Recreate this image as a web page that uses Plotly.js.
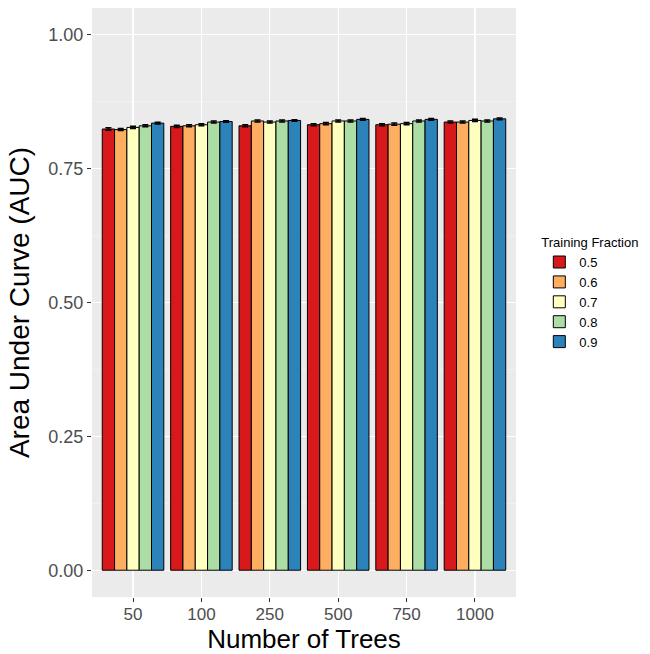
<!DOCTYPE html>
<html>
<head>
<meta charset="utf-8">
<script src="https://cdn.plot.ly/plotly-3.0.1.min.js"></script>
<style>html,body{margin:0;padding:0;background:#fff}#chart{width:650px;height:654px}</style>
</head>
<body>
<div id="chart"></div>
<script>
const trees = ["50", "100", "250", "500", "750", "1000"];
const fractions = ["0.5", "0.6", "0.7", "0.8", "0.9"];
const colors = ["#D7191C", "#FDAE61", "#FFFFBF", "#ABDDA4", "#2B83BA"];
const auc = [
  [0.824, 0.829, 0.830, 0.832, 0.832, 0.837], // 0.5
  [0.823, 0.830, 0.839, 0.834, 0.833, 0.837], // 0.6
  [0.827, 0.832, 0.837, 0.839, 0.834, 0.840], // 0.7
  [0.830, 0.837, 0.839, 0.839, 0.839, 0.839], // 0.8
  [0.835, 0.838, 0.840, 0.842, 0.842, 0.843]  // 0.9
];
const aucErr = [
  [0.0025, 0.002, 0.002, 0.002, 0.002, 0.002],
  [0.002, 0.002, 0.002, 0.002, 0.002, 0.002],
  [0.002, 0.002, 0.002, 0.002, 0.002, 0.002],
  [0.002, 0.002, 0.002, 0.002, 0.002, 0.002],
  [0.0015, 0.0015, 0.0015, 0.0015, 0.0015, 0.0015]
];
const yTicks = [0, 0.25, 0.5, 0.75, 1.0];
const yTickText = ["0.00", "0.25", "0.50", "0.75", "1.00"];

const traces = fractions.map((f, i) => ({
  type: "bar",
  name: f,
  x: trees,
  y: auc[i],
  marker: {color: colors[i], line: {color: "#000", width: 1}},
  error_y: {type: "data", array: aucErr[i], visible: true, color: "#000", thickness: 1.5, width: 3}
}));

const layout = {
  width: 650, height: 654,
  margin: {l: 92, r: 134, t: 8, b: 57},
  paper_bgcolor: "#fff",
  plot_bgcolor: "#EBEBEB",
  font: {family: "Liberation Sans, Arial, sans-serif", color: "#4D4D4D"},
  barmode: "group",
  bargap: 0.1,
  bargroupgap: 0,
  showlegend: true,
  legend: {
    x: 1.055, xanchor: "left", y: 0.515, yanchor: "middle",
    title: {text: "Training Fraction", font: {size: 13, color: "#000"}},
    font: {size: 13, color: "#000"},
    tracegroupgap: 0, itemwidth: 30
  },
  xaxis: {
    type: "category",
    range: [-0.6, 5.6],
    showgrid: true, gridcolor: "#fff", gridwidth: 1.2,
    zeroline: false, showline: false,
    ticks: "outside", ticklen: 4, tickcolor: "#333", tickwidth: 1,
    ticklabelstandoff: -2,
    tickfont: {size: 17, color: "#4D4D4D"},
    title: {text: "Number of Trees", font: {size: 26, color: "#000"}, standoff: 4}
  },
  yaxis: {
    range: [-0.05, 1.05],
    tickvals: yTicks, ticktext: yTickText,
    showgrid: true, gridcolor: "#fff", gridwidth: 1.2,
    minor: {tickvals: [0.125, 0.375, 0.625, 0.875], showgrid: true, gridcolor: "#F5F5F5", gridwidth: 0.6, ticks: ""},
    zeroline: false, showline: false,
    ticks: "outside", ticklen: 4, tickcolor: "#333", tickwidth: 1,
    tickfont: {size: 18, color: "#4D4D4D"},
    title: {text: "Area Under Curve (AUC)", font: {size: 28, color: "#000"}, standoff: 10}
  }
};

Plotly.newPlot("chart", traces, layout, {staticPlot: true, displayModeBar: false});
</script>
</body>
</html>
